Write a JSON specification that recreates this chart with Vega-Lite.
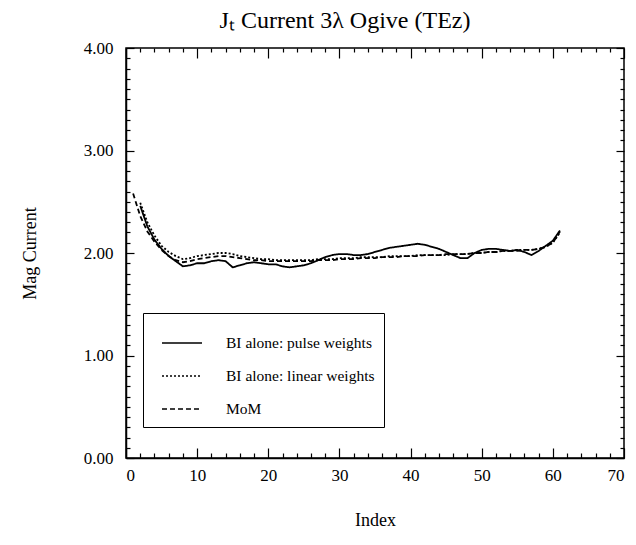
{
  "$schema": "https://vega.github.io/schema/vega-lite/v6.json",
  "autosize": "none",
  "width": 498,
  "height": 410,
  "padding": {"left": 126, "top": 48, "right": 12, "bottom": 87},
  "background": "white",
  "config": {
    "font": "Liberation Serif",
    "view": {"stroke": "black", "strokeWidth": 1.5},
    "axis": {
      "domainColor": "black", "domainWidth": 1.5,
      "tickColor": "black", "tickWidth": 1.2,
      "labelColor": "black", "labelFont": "Liberation Serif", "labelFontSize": 17,
      "titleColor": "black", "titleFont": "Liberation Serif", "titleFontSize": 18, "titleFontWeight": "normal",
      "grid": false
    }
  },
  "title": {"text": "Jₜ Current 3λ Ogive (TEz)", "fontSize": 24, "fontWeight": "normal", "font": "Liberation Serif", "color": "black", "offset": 6, "dx": -30},
  "data": {"values": [
    {"i":1,"m":2.58},
    {"i":2,"p":2.46,"l":2.49,"m":2.36},
    {"i":3,"p":2.26,"l":2.30,"m":2.21},
    {"i":4,"p":2.13,"l":2.17,"m":2.11},
    {"i":5,"p":2.04,"l":2.07,"m":2.03},
    {"i":6,"p":1.97,"l":2.01,"m":1.97},
    {"i":7,"p":1.92,"l":1.97,"m":1.93},
    {"i":8,"p":1.87,"l":1.94,"m":1.91},
    {"i":9,"p":1.88,"l":1.95,"m":1.92},
    {"i":10,"p":1.90,"l":1.97,"m":1.94},
    {"i":11,"p":1.90,"l":1.98,"m":1.95},
    {"i":12,"p":1.92,"l":1.99,"m":1.96},
    {"i":13,"p":1.93,"l":2.00,"m":1.97},
    {"i":14,"p":1.92,"l":2.00,"m":1.97},
    {"i":15,"p":1.86,"l":1.99,"m":1.96},
    {"i":16,"p":1.88,"l":1.97,"m":1.95},
    {"i":17,"p":1.90,"l":1.96,"m":1.94},
    {"i":18,"p":1.91,"l":1.95,"m":1.93},
    {"i":19,"p":1.90,"l":1.94,"m":1.93},
    {"i":20,"p":1.89,"l":1.94,"m":1.92},
    {"i":21,"p":1.89,"l":1.93,"m":1.92},
    {"i":22,"p":1.87,"l":1.93,"m":1.92},
    {"i":23,"p":1.86,"l":1.93,"m":1.92},
    {"i":24,"p":1.87,"l":1.93,"m":1.92},
    {"i":25,"p":1.88,"l":1.93,"m":1.92},
    {"i":26,"p":1.90,"l":1.93,"m":1.92},
    {"i":27,"p":1.93,"l":1.94,"m":1.93},
    {"i":28,"p":1.96,"l":1.94,"m":1.93},
    {"i":29,"p":1.98,"l":1.94,"m":1.93},
    {"i":30,"p":1.99,"l":1.95,"m":1.94},
    {"i":31,"p":1.99,"l":1.95,"m":1.94},
    {"i":32,"p":1.98,"l":1.95,"m":1.94},
    {"i":33,"p":1.98,"l":1.96,"m":1.95},
    {"i":34,"p":1.99,"l":1.96,"m":1.95},
    {"i":35,"p":2.01,"l":1.96,"m":1.95},
    {"i":36,"p":2.03,"l":1.96,"m":1.96},
    {"i":37,"p":2.05,"l":1.97,"m":1.96},
    {"i":38,"p":2.06,"l":1.97,"m":1.96},
    {"i":39,"p":2.07,"l":1.97,"m":1.97},
    {"i":40,"p":2.08,"l":1.97,"m":1.97},
    {"i":41,"p":2.09,"l":1.98,"m":1.97},
    {"i":42,"p":2.08,"l":1.98,"m":1.98},
    {"i":43,"p":2.06,"l":1.98,"m":1.98},
    {"i":44,"p":2.04,"l":1.98,"m":1.98},
    {"i":45,"p":2.01,"l":1.98,"m":1.99},
    {"i":46,"p":1.98,"l":1.99,"m":1.99},
    {"i":47,"p":1.95,"l":1.99,"m":1.99},
    {"i":48,"p":1.95,"l":1.99,"m":1.99},
    {"i":49,"p":2.00,"l":2.00,"m":2.00},
    {"i":50,"p":2.03,"l":2.00,"m":2.00},
    {"i":51,"p":2.04,"l":2.01,"m":2.01},
    {"i":52,"p":2.04,"l":2.01,"m":2.01},
    {"i":53,"p":2.03,"l":2.02,"m":2.02},
    {"i":54,"p":2.02,"l":2.02,"m":2.02},
    {"i":55,"p":2.03,"l":2.03,"m":2.02},
    {"i":56,"p":2.01,"l":2.03,"m":2.03},
    {"i":57,"p":1.98,"l":2.03,"m":2.03},
    {"i":58,"p":2.02,"l":2.04,"m":2.04},
    {"i":59,"p":2.07,"l":2.06,"m":2.06},
    {"i":60,"p":2.12,"l":2.10,"m":2.10},
    {"i":61,"p":2.22,"l":2.20,"m":2.21}
  ]},
  "transform": [{"fold": ["p", "l", "m"], "as": ["k", "v"]}],
  "layer": [
    {
      "mark": {"type": "line", "color": "black", "strokeWidth": 1.8, "clip": true},
      "encoding": {
        "x": {"field": "i", "type": "quantitative", "scale": {"domain": [0, 70], "nice": false},
          "axis": {"orient": "bottom", "title": "Index", "titlePadding": 28, "labelPadding": 19,
            "values": [0,10,20,30,40,50,60,70], "tickSize": -10}},
        "y": {"field": "v", "type": "quantitative", "scale": {"domain": [0, 4], "nice": false, "zero": false},
          "axis": {"orient": "left", "title": "Mag Current", "titlePadding": 44, "labelPadding": 21,
            "values": [0,1,2,3,4], "format": ".2f", "tickSize": -8}},
        "strokeDash": {"field": "k", "type": "nominal",
          "scale": {"domain": ["p", "l", "m"], "range": [[1, 0], [2, 2], [5, 3]]},
          "legend": {"title": null, "orient": "none", "legendX": 17, "legendY": 265,
            "labelExpr": "datum.label === 'p' ? 'BI alone: pulse weights' : datum.label === 'l' ? 'BI alone: linear weights' : 'MoM'",
            "symbolType": "stroke", "symbolSize": 1600, "symbolStrokeWidth": 1.5, "symbolStrokeColor": "black",
            "symbolOffset": 9,
            "labelFont": "Liberation Serif", "labelFontSize": 15.5, "labelColor": "black", "labelOffset": 23,
            "strokeColor": "black", "fillColor": "white", "padding": 9, "rowPadding": 3}}
      }
    },
    {
      "mark": {"type": "line", "strokeOpacity": 0},
      "encoding": {
        "x": {"field": "i", "type": "quantitative",
          "axis": {"orient": "top", "title": null, "labels": false, "domain": false,
            "values": [0,10,20,30,40,50,60,70], "tickSize": -10}},
        "y": {"field": "v", "type": "quantitative",
          "axis": {"orient": "right", "title": null, "labels": false, "domain": false,
            "values": [0,1,2,3,4], "tickSize": -8}}
      }
    },
    {
      "mark": {"type": "line", "strokeOpacity": 0},
      "encoding": {
        "x": {"field": "i", "type": "quantitative",
          "axis": {"orient": "bottom", "title": null, "labels": false, "domain": false,
            "values": [2,4,6,8,12,14,16,18,22,24,26,28,32,34,36,38,42,44,46,48,52,54,56,58,62,64,66,68], "tickSize": -5}},
        "y": {"field": "v", "type": "quantitative",
          "axis": {"orient": "left", "title": null, "labels": false, "domain": false,
            "values": [0.1,0.2,0.3,0.4,0.5,0.6,0.7,0.8,0.9,1.1,1.2,1.3,1.4,1.5,1.6,1.7,1.8,1.9,2.1,2.2,2.3,2.4,2.5,2.6,2.7,2.8,2.9,3.1,3.2,3.3,3.4,3.5,3.6,3.7,3.8,3.9], "tickSize": -4}}
      }
    },
    {
      "mark": {"type": "line", "strokeOpacity": 0},
      "encoding": {
        "x": {"field": "i", "type": "quantitative",
          "axis": {"orient": "top", "title": null, "labels": false, "domain": false,
            "values": [2,4,6,8,12,14,16,18,22,24,26,28,32,34,36,38,42,44,46,48,52,54,56,58,62,64,66,68], "tickSize": -4}},
        "y": {"field": "v", "type": "quantitative",
          "axis": {"orient": "right", "title": null, "labels": false, "domain": false,
            "values": [0.1,0.2,0.3,0.4,0.5,0.6,0.7,0.8,0.9,1.1,1.2,1.3,1.4,1.5,1.6,1.7,1.8,1.9,2.1,2.2,2.3,2.4,2.5,2.6,2.7,2.8,2.9,3.1,3.2,3.3,3.4,3.5,3.6,3.7,3.8,3.9], "tickSize": -4}}
      }
    }
  ],
  "resolve": {"axis": {"x": "independent", "y": "independent"}}
}
